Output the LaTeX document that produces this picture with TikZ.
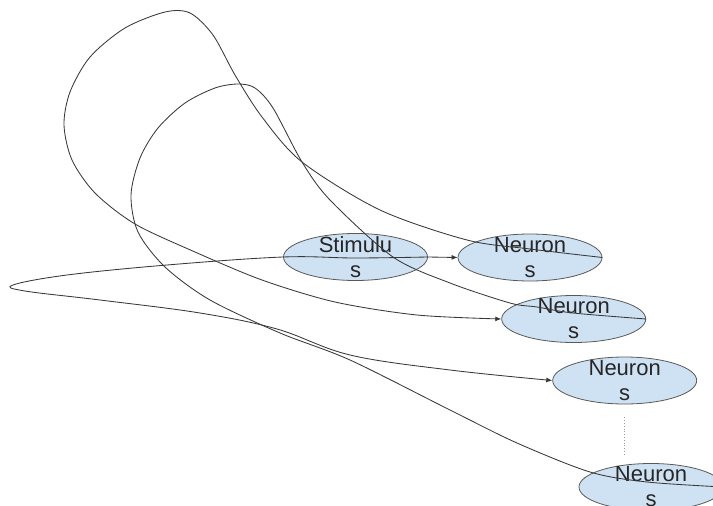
\documentclass[tikz,border=0pt]{standalone}
\usepackage{fontspec}
\setmainfont{Liberation Sans}
\usetikzlibrary{shapes.geometric,arrows.meta}
\definecolor{nodefill}{HTML}{CFE2F3}
\definecolor{edgegray}{HTML}{595959}
\definecolor{linegray}{HTML}{383838}
\begin{document}
\begin{tikzpicture}[x=1pt,y=-1pt,
  neuron/.style={ellipse, draw=edgegray, fill=nodefill, line width=0.8pt,
    minimum width=144pt, minimum height=47pt, inner sep=0pt},
  lbl/.style={align=center, font=\fontsize{22}{25}\selectfont, text=black!85, inner sep=0pt},
  wire/.style={draw=linegray, line width=0.85pt},
  tip/.style={-{Latex[length=6pt,width=5pt]}},
  dots/.style={draw=black!40, dotted, line width=0.8pt}]
\useasboundingbox (0,0) rectangle (713,506);
\node[neuron, label={[lbl]center:Stimulu\\s}] (s) at (355.5,257) {};
\node[neuron, label={[lbl]center:Neuron\\s}] (n1) at (530,257.5) {};
\node[neuron, label={[lbl]center:Neuron\\s}] (n2) at (573.7,319) {};
\node[neuron, label={[lbl]center:Neuron\\s}] (n3) at (624.7,380.5) {};
\node[neuron, label={[lbl]center:Neuron\\s}] (n4) at (651,487) {};
% straight arrow
\draw[wire, tip] (s.east) -- (n1.west);
% stimulus loop to neuron 3
\draw[wire, tip] plot[smooth, tension=0.6] coordinates {(s.east) (355,258) (s.west)
  (167,265) (67,275) (13,285) (25,291) (100,300) (200,313) (277,329) (350,355)
  (450,370) (n3.west)};
% big loop: neuron 1 to neuron 2
\draw[wire, tip] plot[smooth] coordinates {(n1.east) (530,249) (467,240)
  (380,210) (302,162) (262,117) (235,75) (213,35) (190,13) (165,12) (125,28)
  (90,57) (70,92) (64,125) (72,160) (95,193) (135,224) (195,252) (262,280)
  (335,302) (417,315) (n2.west)};
% small loop: neuron 2 to neuron 4
\draw[wire] plot[smooth] coordinates {(n2.east) (573,313) (537,307) (510,303)
  (450,283) (393,257) (330,200) (302,162) (273,108) (255,88) (238,84) (215,88)
  (185,103) (158,128) (140,158) (131,195) (138,232) (165,267) (210,300) (280,333)
  (350,360) (450,410) (517,443) (590,472) (647,482) (n4.east)};
% dotted continuation
\draw[dots, shorten <=13pt, shorten >=8pt] (n3.south) -- (n3.south |- n4.north);
\end{tikzpicture}
\end{document}
